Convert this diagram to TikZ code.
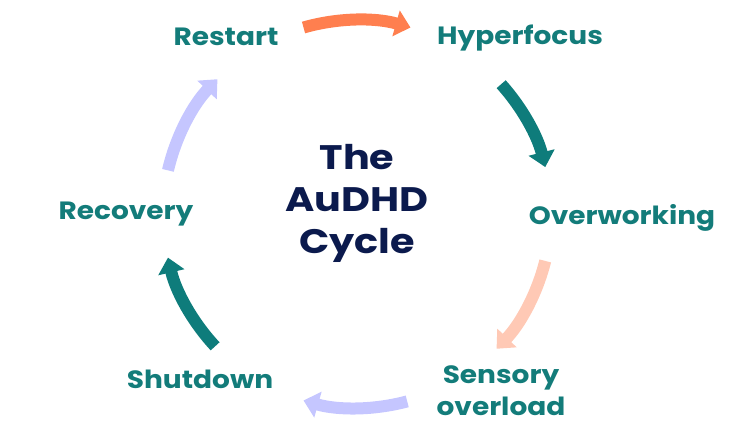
\documentclass[tikz,border=0pt]{standalone}
\usepackage{fontspec}
\setmainfont{Poppins}
\usetikzlibrary{arrows.meta,calc}
\definecolor{corange}{HTML}{FF7F4F}
\definecolor{cteal}{HTML}{0E7C7B}
\definecolor{csalmon}{HTML}{FFC9B5}
\definecolor{clav}{HTML}{C5C6FF}
\definecolor{ctext}{HTML}{137C7A}
\definecolor{cnavy}{HTML}{0B1A4D}
\newcommand{\lx}[1]{\scalebox{1.12}[1]{#1}}
\newcommand{\tx}[1]{\scalebox{1.17}[1]{#1}}
\tikzset{
  lbl/.style={text=ctext,font=\fontsize{25}{32}\selectfont\bfseries,align=center,inner sep=0pt},
  ttl/.style={text=cnavy,font=\fontsize{34}{42}\selectfont\bfseries,align=center,inner sep=0pt},
  cyc/.style={line width=12pt,-{Triangle[width=26pt,length=15pt]}}
}
\begin{document}
\begin{tikzpicture}[x=1pt,y=1pt]
\useasboundingbox (0,0) rectangle (747,440);
\coordinate (c) at (357,226);
\node[lbl] (restart) at (226,403) {\lx{Restart}};
\node[lbl] (hyper) at (520,402) {\lx{Hyperfocus}};
\node[lbl] (over) at (622,222) {\lx{Overworking}};
\node[lbl] (sens) at (501,49) {\lx{Sensory}\\\lx{overload}};
\node[lbl] (shut) at (200,61) {\lx{Shutdown}};
\node[lbl] (recov) at (126,226) {\lx{Recovery}};
\node[ttl] (title) at (357,237) {\tx{The}\\\tx{AuDHD}\\\tx{Cycle}};
\draw[cyc,corange] ($(c)+(106:194)$) arc[start angle=106,end angle=74,radius=194];
\draw[cyc,cteal] ($(c)+(42:194)$) arc[start angle=42,end angle=14,radius=194];
\draw[cyc,csalmon] ($(c)+(-14:194)$) arc[start angle=-14,end angle=-44,radius=194];
\draw[cyc,clav] ($(c)+(-75:194)$) arc[start angle=-75,end angle=-106,radius=194];
\draw[cyc,cteal] ($(c)+(223:194)$) arc[start angle=223,end angle=193,radius=194];
\draw[cyc,clav] ($(c)+(167:194)$) arc[start angle=167,end angle=136,radius=194];
\end{tikzpicture}
\end{document}
